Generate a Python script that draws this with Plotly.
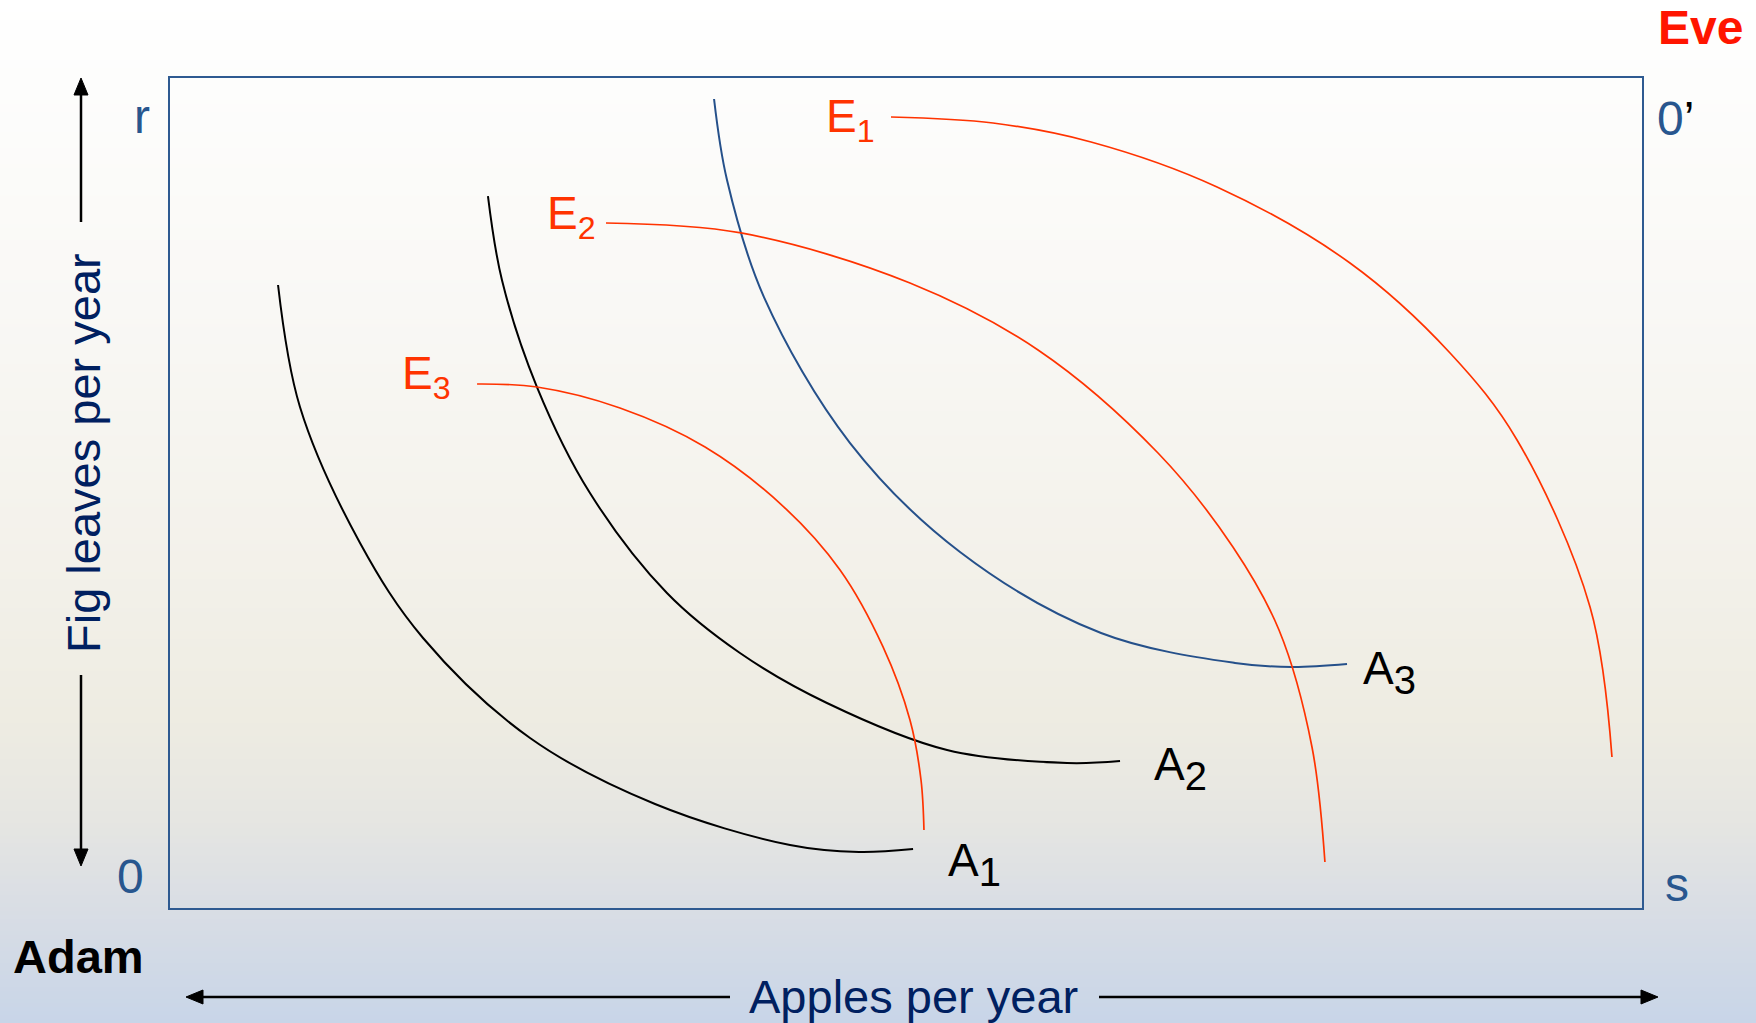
import plotly.graph_objects as go

# ---------------- data (Apples: 0-100 across the box, Fig leaves: 0-100 up the box) ----------------
a1_x = [7.34, 8.83, 12.91, 17.19, 24.46, 32.95, 42.12, 46.81, 50.48]
a1_y = [75.06, 60.36, 43.98, 32.53, 20.48, 12.53, 7.59, 6.75, 7.11]

a2_x = [21.60, 22.55, 24.93, 28.53, 33.76, 38.72, 44.63, 52.79, 60.94, 64.54]
a2_y = [85.78, 75.66, 62.77, 50.00, 37.95, 30.72, 24.70, 19.04, 17.47, 17.71]

a3_x = [36.96, 37.84, 40.35, 46.20, 53.67, 63.25, 72.35, 76.22, 79.96]
a3_y = [97.47, 87.71, 73.61, 56.02, 42.89, 33.13, 29.52, 29.04, 29.40]

e1_x = [48.98, 55.91, 62.57, 71.13, 80.16, 86.96, 91.51, 96.47, 97.96]
e1_y = [95.30, 94.58, 92.29, 86.87, 77.71, 66.87, 56.39, 36.27, 18.19]

e2_x = [29.62, 38.79, 50.27, 58.97, 67.12, 72.21, 75.34, 77.58, 78.46]
e2_y = [82.53, 81.33, 75.30, 67.23, 54.82, 43.49, 33.49, 19.40, 5.54]

e3_x = [20.86, 24.93, 30.57, 36.35, 41.71, 45.52, 48.44, 50.27, 51.02, 51.22]
e3_y = [63.13, 62.77, 60.24, 55.54, 48.31, 40.72, 31.45, 22.65, 15.42, 9.40]

curve_names = ["A1", "A2", "A3", "E1", "E2", "E3"]
curve_letters = ["A", "A", "A", "E", "E", "E"]
curve_digits = ["1", "2", "3", "1", "2", "3"]

# ---------------- layout constants (pixels of the 1756x1023 page) ----------------
W, H = 1756, 1023
BX0, BX1, BY0, BY1 = 170, 1642, 78, 908

def px(x):
    return x / W

def py(y):
    return 1 - y / H

FONT = "Liberation Sans, Arial, Helvetica, sans-serif"
RED = "#FF3300"
BLUE = "#25508A"
NAVY = "#002060"
STEEL = "#28568E"

fig = go.Figure()

styles = {
    "A1": dict(color="black", width=2),
    "A2": dict(color="black", width=2),
    "A3": dict(color=BLUE, width=2),
    "E1": dict(color=RED, width=1.7),
    "E2": dict(color=RED, width=1.7),
    "E3": dict(color=RED, width=1.7),
}
data = {
    "A1": (a1_x, a1_y), "A2": (a2_x, a2_y), "A3": (a3_x, a3_y),
    "E1": (e1_x, e1_y), "E2": (e2_x, e2_y), "E3": (e3_x, e3_y),
}
for n in curve_names:
    xs, ys = data[n]
    fig.add_trace(go.Scatter(x=xs, y=ys, mode="lines", name=n,
                             line=dict(shape="spline", smoothing=1.0, **styles[n]),
                             hoverinfo="skip", showlegend=False))

annotations = []

# label placement (page pixels): E labels right-anchored, A labels left-anchored
label_pos = {
    "E1": (877, 119, "right"), "E2": (598, 216, "right"), "E3": (453, 376, "right"),
    "A1": (946, 864, "left"), "A2": (1152, 768, "left"), "A3": (1361, 672, "left"),
}
for n, L, d in zip(curve_names, curve_letters, curve_digits):
    x, y, anc = label_pos[n]
    if L == "E":
        text = "E<sub>%s</sub>" % d
        col = RED
    else:
        text = "A<sub><span style='font-size:40px'>%s</span></sub>" % d
        col = "black"
    annotations.append(dict(x=px(x), y=py(y), xref="paper", yref="paper", text=text,
                            xanchor=anc, yanchor="middle", showarrow=False,
                            font=dict(family=FONT, size=46, color=col)))

def txt(text, x, y, size, color, bold=False, angle=0):
    t = "<b>%s</b>" % text if bold else text
    annotations.append(dict(x=px(x), y=py(y), xref="paper", yref="paper", text=t,
                            xanchor="center", yanchor="middle", showarrow=False, textangle=angle,
                            font=dict(family=FONT, size=size, color=color)))

txt("r", 142, 116, 48, STEEL)
txt("0", 130, 876, 48, STEEL)
txt("0<span style='color:black'>’</span>", 1675, 118, 48, STEEL)
txt("s", 1677, 884, 48, STEEL)
txt("Eve", 1700, 28, 48, "#FF1500", bold=True)
txt("Adam", 78, 956, 47, "black", bold=True)
txt("Apples per year", 913, 996, 47, NAVY)
txt("Fig leaves per year", 83, 453, 47, NAVY, angle=-90)

shapes = []
# gradient page background (horizontal bands)
stops = [(0.0, (255, 255, 255)), (0.08, (253, 253, 252)), (0.3, (249, 248, 245)),
         (0.55, (243, 241, 234)), (0.7, (238, 236, 226)), (0.8, (230, 230, 226)),
         (0.88, (218, 222, 228)), (1.0, (200, 213, 232))]

def grad(t):
    for (t0, c0), (t1, c1) in zip(stops[:-1], stops[1:]):
        if t0 <= t <= t1:
            f = (t - t0) / (t1 - t0)
            return "rgb(%d,%d,%d)" % tuple(round(a + (b - a) * f) for a, b in zip(c0, c1))
    return "rgb(%d,%d,%d)" % stops[-1][1]

NB = 256
for i in range(NB):
    y0 = i / NB
    y1 = (i + 1) / NB
    shapes.append(dict(type="rect", xref="paper", yref="paper", x0=0, x1=1,
                       y0=1 - y1 - 0.001, y1=1 - y0, fillcolor=grad((i + 0.5) / NB),
                       line=dict(width=0), layer="below"))

def seg(x0, y0, x1, y1, w=2.5):
    shapes.append(dict(type="line", xref="paper", yref="paper", x0=px(x0), y0=py(y0),
                       x1=px(x1), y1=py(y1), line=dict(color="black", width=w)))

def tri(p1, p2, p3):
    path = "M %f %f L %f %f L %f %f Z" % (px(p1[0]), py(p1[1]), px(p2[0]), py(p2[1]), px(p3[0]), py(p3[1]))
    shapes.append(dict(type="path", xref="paper", yref="paper", path=path,
                       fillcolor="black", line=dict(color="black", width=1)))

# vertical arrow (fig leaves)
seg(81, 222, 81, 92)
tri((81, 78), (74, 95), (88, 95))
seg(81, 675, 81, 852)
tri((81, 866), (74, 849), (88, 849))
# horizontal arrow (apples)
seg(730, 997, 200, 997)
tri((186, 997), (203, 990), (203, 1004))
seg(1099, 997, 1645, 997)
tri((1658, 997), (1641, 990), (1641, 1004))

fig.update_layout(
    width=W, height=H,
    margin=dict(l=0, r=0, t=0, b=0),
    paper_bgcolor="white",
    plot_bgcolor="rgba(0,0,0,0)",
    xaxis=dict(domain=[px(BX0), px(BX1)], range=[0, 100], showgrid=False, zeroline=False,
               showticklabels=False, ticks="", showline=True, mirror=True,
               linecolor="#2E5A91", linewidth=2, fixedrange=True),
    yaxis=dict(domain=[py(BY1), py(BY0)], range=[0, 100], showgrid=False, zeroline=False,
               showticklabels=False, ticks="", showline=True, mirror=True,
               linecolor="#2E5A91", linewidth=2, fixedrange=True),
    annotations=annotations,
    shapes=shapes,
    showlegend=False,
)

fig.write_html(
    "out.html",
    config={"displayModeBar": False},
    post_script="document.body.style.margin='0';document.body.style.overflow='hidden';",
)
